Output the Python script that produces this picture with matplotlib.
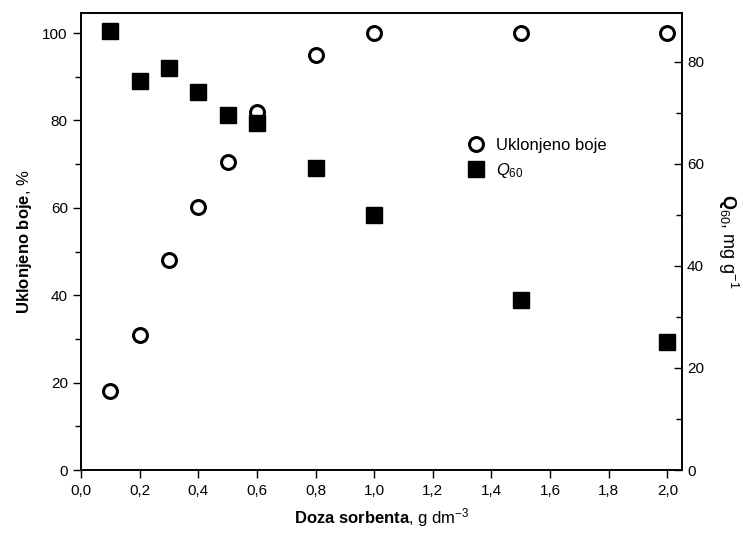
import numpy as np
import matplotlib
matplotlib.use('Agg')
import matplotlib.pyplot as plt
import matplotlib.ticker as plticker
from matplotlib.lines import Line2D

plt.rcParams['font.family'] = ['Liberation Sans', 'DejaVu Sans']
plt.rcParams['mathtext.fontset'] = 'custom'
plt.rcParams['mathtext.rm'] = 'Liberation Sans'
plt.rcParams['mathtext.it'] = 'Liberation Sans:italic'
plt.rcParams['mathtext.bf'] = 'Liberation Sans:bold'

# sorbent dose, g/dm3
doza = [0.1, 0.2, 0.3, 0.4, 0.5, 0.6, 0.8, 1.0, 1.5, 2.0]
# dye removed, %
uklonjeno = [18.1, 30.9, 48.0, 60.2, 70.5, 82.0, 95.0, 100.0, 100.0, 100.0]
# Q60, mg/g
q60 = [86.0, 76.2, 78.9, 74.2, 69.5, 68.1, 59.3, 50.0, 33.4, 25.0]

fig = plt.figure(figsize=(7.43, 5.4), dpi=100)
ax = fig.add_axes([0.109, 0.1296, 0.809, 0.8464])
ax2 = ax.twinx()

ax.plot(doza, uklonjeno, 'o', mfc='white', mec='black', ms=10, mew=2.2,
        linestyle='none', zorder=3)
ax2.plot(doza, q60, 's', color='black', ms=11, linestyle='none', zorder=3)

ax.set_xlim(0, 2.05)
ax.set_ylim(0, 104.6)
ax2.set_ylim(0, 89.6)

comma = plticker.FuncFormatter(lambda v, p: f'{v:.1f}'.replace('.', ','))
ax.xaxis.set_major_locator(plticker.MultipleLocator(0.2))
ax.xaxis.set_major_formatter(comma)
ax.yaxis.set_major_locator(plticker.MultipleLocator(20))
ax.yaxis.set_minor_locator(plticker.MultipleLocator(10))
ax2.yaxis.set_major_locator(plticker.MultipleLocator(20))
ax2.yaxis.set_minor_locator(plticker.MultipleLocator(10))

ax.tick_params(axis='x', direction='out', length=6, width=1, labelsize=11, pad=4)
ax.tick_params(axis='y', which='major', direction='out', length=6, width=1, labelsize=11)
ax.tick_params(axis='y', which='minor', direction='out', length=4, width=1)
ax2.tick_params(axis='y', which='major', direction='in', length=6, width=1, labelsize=11)
ax2.tick_params(axis='y', which='minor', direction='in', length=4, width=1)

for a in (ax, ax2):
    for s in a.spines.values():
        s.set_linewidth(1.2)

ax.set_xlabel(r'$\mathbf{Doza\ sorbenta}$, g dm$^{-3}$', fontsize=12, labelpad=6)
ax.set_ylabel(r'$\mathbf{Uklonjeno\ boje}$, %', fontsize=12, labelpad=6)
ax2.set_ylabel(r'$\mathbf{Q}_{60}$, mg g$^{-1}$', fontsize=13, rotation=270, labelpad=26)

handles = [
    Line2D([], [], marker='o', mfc='white', mec='black', ms=10, mew=2.2, linestyle='none'),
    Line2D([], [], marker='s', color='black', ms=11, linestyle='none'),
]
ax.legend(handles, ['Uklonjeno boje', r'$Q_{60}$'], loc='upper left',
          bbox_to_anchor=(0.605, 0.76), frameon=False, fontsize=12,
          handletextpad=0.2, labelspacing=0.5)

fig.savefig('out.png', dpi=100)
